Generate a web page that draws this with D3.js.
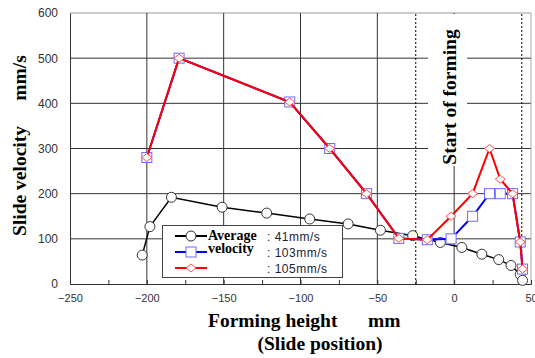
<!DOCTYPE html>
<html>
<head>
<meta charset="utf-8">
<script src="https://cdn.jsdelivr.net/npm/d3@7"></script>
<style>
  body { margin: 0; background: #fff; }
  text { font-family: "Liberation Sans", Arial, sans-serif; }
  .serif { font-family: "Liberation Serif", "Times New Roman", serif; font-weight: bold; }
</style>
</head>
<body>
<div id="chart"></div>
<script>
// data
var xTicks = [-250, -200, -150, -100, -50, 0, 50];
var yTicks = [0, 100, 200, 300, 400, 500, 600];
var markLines = [-25, 44];

var avgX = [-203, -198, -184, -151, -122, -94, -69, -48, -27, -9, 5, 18, 29, 37, 43, 44.5];
var avgY = [64, 127, 192, 170, 157, 144, 133, 119, 107, 92, 81, 66, 54, 41, 21, 8];

var fastX = [-200, -179, -107, -81, -57, -36, -17.5, -2, 12, 23, 30, 38, 43, 44.5];
var midY  = [280, 500, 403, 300, 200, 101, 98, 100, 150, 200, 200, 200, 93, 33];
var fastY = [280, 500, 403, 300, 200, 101, 98, 150, 200, 300, 232, 200, 93, 33];

var legendLabels = [": 41mm/s", ": 103mm/s", ": 105mm/s"];

var W = 535, H = 358;
var margin = {top: 13, right: 4, bottom: 74, left: 70};

var svg = d3.select("#chart").append("svg")
  .attr("width", W).attr("height", H);

var x = d3.scaleLinear().domain([-250, 50]).range([margin.left, W - margin.right]);
var y = d3.scaleLinear().domain([0, 600]).range([H - margin.bottom, margin.top]);

// grid
svg.append("g").selectAll("line").data(yTicks.slice(1)).enter().append("line")
  .attr("x1", x(-250)).attr("x2", x(50))
  .attr("y1", function(d) { return y(d) }).attr("y2", function(d) { return y(d) })
  .attr("stroke", function(d) { return d == 600 ? "#999" : "#333" }).attr("stroke-width", 1);
svg.append("g").selectAll("line").data(xTicks.slice(1, -1)).enter().append("line")
  .attr("x1", function(d) { return x(d) }).attr("x2", function(d) { return x(d) })
  .attr("y1", y(0)).attr("y2", y(600))
  .attr("stroke", "#333").attr("stroke-width", 1);
// right border
svg.append("line")
  .attr("x1", x(50)).attr("x2", x(50)).attr("y1", y(0)).attr("y2", y(600))
  .attr("stroke", "#aaa");

// dashed markers
svg.append("g").selectAll("line").data(markLines).enter().append("line")
  .attr("x1", function(d) { return x(d) }).attr("x2", function(d) { return x(d) })
  .attr("y1", y(0)).attr("y2", y(600))
  .attr("stroke", "#000").attr("stroke-width", 1).attr("stroke-dasharray", "2,2");

// axes
var xAxis = d3.axisBottom(x).tickValues(d3.range(-250, 51, 25))
  .tickSize(-4).tickPadding(10)
  .tickFormat(function(d) { return d % 50 == 0 ? d3.format("")(d) : "" });
var gx = svg.append("g").attr("transform", "translate(0," + y(0) + ")").call(xAxis);
gx.select(".domain").attr("stroke", "#333");
gx.selectAll(".tick line").attr("stroke", "#333");
gx.selectAll("text").attr("font-size", 11).attr("fill", "#333")
  .attr("font-family", "Liberation Sans, sans-serif");

var yAxis = d3.axisLeft(y).tickValues(yTicks).tickSize(0).tickPadding(12);
var gy = svg.append("g").attr("transform", "translate(" + x(-250) + ",0)").call(yAxis);
gy.select(".domain").attr("stroke", "#333");
gy.selectAll("text").attr("font-size", 12).attr("fill", "#333")
  .attr("font-family", "Liberation Sans, sans-serif");

// white block behind "Start of forming"
svg.append("rect").attr("x", 428).attr("y", y(600) + 1).attr("width", 39).attr("height", 152)
  .attr("fill", "#fff");
svg.append("text").attr("class", "serif")
  .attr("transform", "translate(456,97) rotate(-90)")
  .attr("text-anchor", "middle").attr("font-size", 19.5)
  .text("Start of forming");

// series
function series(xs, ys, color, width) {
  var pts = xs.map(function(d, i) { return [x(d), y(ys[i])] });
  svg.append("path").datum(pts)
    .attr("d", d3.line())
    .attr("fill", "none").attr("stroke", color).attr("stroke-width", width);
  return pts;
}

var avgPts = series(avgX, avgY, "#000", 1.5);
svg.append("g").selectAll("circle").data(avgPts).enter().append("circle")
  .attr("cx", function(d) { return d[0] }).attr("cy", function(d) { return d[1] })
  .attr("r", 5).attr("fill", "#fff").attr("stroke", "#333").attr("stroke-width", 1);

var midPts = series(fastX, midY, "#0000ff", 2);
svg.append("g").selectAll("rect").data(midPts).enter().append("rect")
  .attr("x", function(d) { return d[0] - 5 }).attr("y", function(d) { return d[1] - 5 })
  .attr("width", 10).attr("height", 10)
  .attr("fill", "#fff").attr("stroke", "#6b6bff").attr("stroke-width", 1);

var fastPts = series(fastX, fastY, "#ff0000", 2);
var diamond = "M-5,0L0,-4L5,0L0,4Z";
svg.append("g").selectAll("path").data(fastPts).enter().append("path")
  .attr("d", diamond)
  .attr("transform", function(d) { return "translate(" + d[0] + "," + d[1] + ")" })
  .attr("fill", "#fff").attr("stroke", "#ff5050").attr("stroke-width", 1);

// legend
var lg = svg.append("g");
lg.append("rect").attr("x", 162.5).attr("y", 225.5).attr("width", 180).attr("height", 52)
  .attr("fill", "#fff").attr("stroke", "#444");
var lcolors = ["#000", "#0000ff", "#ff0000"];
var lrows = [236, 252, 268];
lrows.forEach(function(ly, i) {
  lg.append("line").attr("x1", 175).attr("x2", 207).attr("y1", ly).attr("y2", ly)
    .attr("stroke", lcolors[i]).attr("stroke-width", 2);
  if (i == 0) {
    lg.append("circle").attr("cx", 191).attr("cy", ly).attr("r", 5)
      .attr("fill", "#fff").attr("stroke", "#333");
  } else if (i == 1) {
    lg.append("rect").attr("x", 186).attr("y", ly - 5).attr("width", 10).attr("height", 10)
      .attr("fill", "#fff").attr("stroke", "#6b6bff");
  } else {
    lg.append("path").attr("d", diamond).attr("transform", "translate(191," + ly + ")")
      .attr("fill", "#fff").attr("stroke", "#ff5050");
  }
  lg.append("text").attr("x", 267).attr("y", ly + 4.5)
    .attr("font-size", 12).attr("fill", "#223").attr("letter-spacing", 0.5)
    .text(legendLabels[i]);
});
lg.append("text").attr("class", "serif").attr("x", 208).attr("y", 240)
  .attr("font-size", 14).text("Average");
lg.append("text").attr("class", "serif").attr("x", 208).attr("y", 253)
  .attr("font-size", 14).text("velocity");

// axis titles
svg.append("text").attr("class", "serif")
  .attr("transform", "translate(26,181) rotate(-90)").attr("text-anchor", "middle")
  .attr("font-size", 19.5).text("Slide velocity");
svg.append("text").attr("class", "serif")
  .attr("transform", "translate(26,78) rotate(-90)").attr("text-anchor", "middle")
  .attr("font-size", 19.5).text("mm/s");
svg.append("text").attr("class", "serif").attr("x", 208).attr("y", 327)
  .attr("font-size", 19.5).text("Forming height");
svg.append("text").attr("class", "serif").attr("x", 368).attr("y", 327)
  .attr("font-size", 19.5).text("mm");
svg.append("text").attr("class", "serif").attr("x", 320).attr("y", 350)
  .attr("text-anchor", "middle").attr("font-size", 19.5).text("(Slide position)");
</script>
</body>
</html>
